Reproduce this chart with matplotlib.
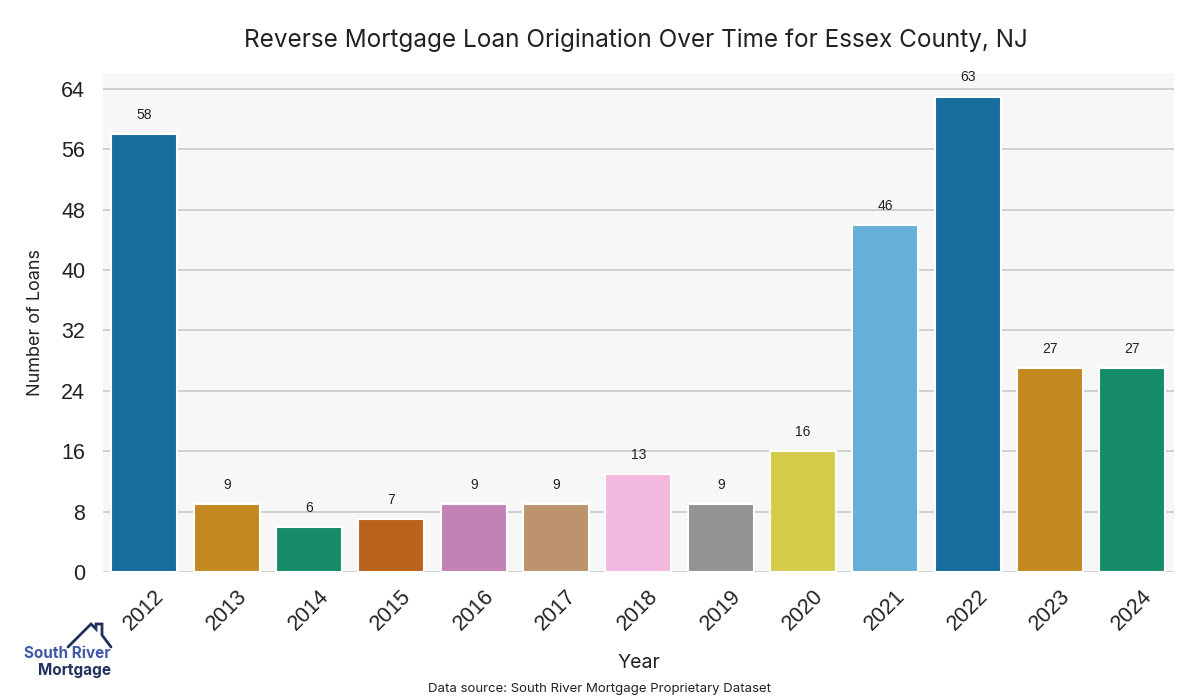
import matplotlib
matplotlib.use("Agg")
import matplotlib.pyplot as plt
from matplotlib.lines import Line2D
import seaborn as sns
import pandas as pd

# data
years = ["2012", "2013", "2014", "2015", "2016", "2017", "2018",
         "2019", "2020", "2021", "2022", "2023", "2024"]
loans = [58, 9, 6, 7, 9, 9, 13, 9, 16, 46, 63, 27, 27]
y_ticks = [0, 8, 16, 24, 32, 40, 48, 56, 64]

title = "Reverse Mortgage Loan Origination Over Time for Essex County, NJ"
source = "Data source: South River Mortgage Proprietary Dataset"

df = pd.DataFrame({"Year": years, "Loans": loans})

sns.set_style("whitegrid")
plt.rcParams['font.family'] = ['Liberation Sans', 'DejaVu Sans']

fig = plt.figure(figsize=(12, 7), dpi=100)
ax = fig.add_axes([0.086, 0.183, 0.892, 0.713])
ax.set_facecolor('#f7f7f7')

sns.barplot(data=df, x="Year", y="Loans", hue="Year", palette="colorblind",
            legend=False, edgecolor='white', linewidth=1.5, ax=ax, zorder=2)

for i, v in enumerate(loans):
    ax.text(i, v + 1.6, str(v), ha='center', va='bottom', fontsize=10, color='#222222')

ax.set_ylim(0, max(loans) * 1.05)
ax.set_xlim(-0.5, len(years) - 0.5)
ax.set_yticks(y_ticks)
ax.tick_params(axis='y', labelsize=15.5, colors='#222222', length=0, pad=13)
ax.tick_params(axis='x', labelsize=15.5, colors='#222222', length=0, pad=10)
for lbl in ax.get_xticklabels():
    lbl.set_rotation(45)
    lbl.set_ha('center')

ax.grid(axis='y', color='#cccccc', linewidth=1.3, zorder=0)
ax.grid(axis='x', visible=False)
ax.set_axisbelow(True)
for s in ax.spines.values():
    s.set_visible(False)

ax.set_xlabel("Year", fontsize=14, family='Inter', color='#222222', labelpad=14)
ax.set_ylabel("Number of Loans", fontsize=13, family='Inter', color='#222222', labelpad=12)
fig.text(0.53, 0.943, title, ha='center', va='center', fontsize=17.5,
         family='Inter', color='#222222')
fig.text(0.5, 0.016, source, ha='center', va='center', fontsize=9.5,
         family='Inter', color='#222222')

# logo
hx = [68, 91, 96, 96, 102, 102, 111]
hy = [647, 624, 629, 624, 624, 635, 647]
fig.add_artist(Line2D([x / 1200 for x in hx], [1 - y / 700 for y in hy],
                      color='#23305e', linewidth=2, solid_joinstyle='miter'))
fig.text(111 / 1200, 1 - 654 / 700, "South River", ha='right', va='center',
         fontsize=11, fontweight='bold', color='#4058a8', family='Inter')
fig.text(111 / 1200, 1 - 670 / 700, "Mortgage", ha='right', va='center',
         fontsize=11, fontweight='bold', color='#23305e', family='Inter')

fig.savefig("out.png", dpi=100)
